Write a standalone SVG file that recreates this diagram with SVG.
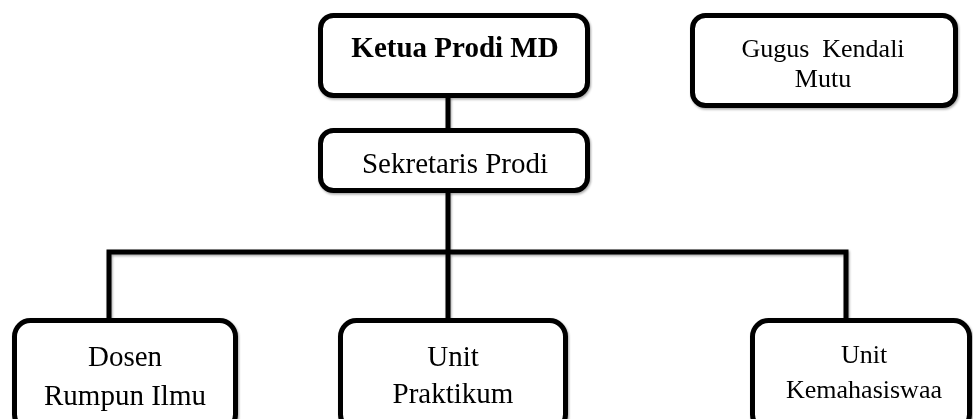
<svg xmlns="http://www.w3.org/2000/svg" width="973" height="419" viewBox="0 0 973 419">
  <style>
    .box { fill: #ffffff; stroke: #000000; stroke-width: 5; }
    .conn { fill: none; stroke: #000000; stroke-width: 5; stroke-linejoin: miter; }
    text { font-family: "Liberation Serif", "Times New Roman", serif; fill: #000000; text-anchor: middle; white-space: pre; }
    .t29 { font-size: 29px; }
    .t26 { font-size: 26px; }
    .bold { font-weight: bold; }
  </style>
  <defs>
    <filter id="sh" x="-10%" y="-10%" width="120%" height="130%">
      <feDropShadow dx="1" dy="1.5" stdDeviation="1" flood-color="#000" flood-opacity="0.35"/>
    </filter>
  </defs>
  <rect width="973" height="419" fill="#ffffff"/>
  <g id="connectors" filter="url(#sh)">
    <path class="conn" d="M448,97 V131"/>
    <path class="conn" d="M448,192 V319"/>
    <path class="conn" d="M109,319 V252 H846 V319"/>
  </g>
  <g id="ketua" filter="url(#sh)">
    <rect class="box" x="320.5" y="15.5" width="267" height="80" rx="13"/>
    <text class="t29 bold" x="455" y="57">Ketua Prodi MD</text>
  </g>
  <g id="sekretaris" filter="url(#sh)">
    <rect class="box" x="320.5" y="130.5" width="267" height="60" rx="13"/>
    <text class="t29" x="455" y="173">Sekretaris Prodi</text>
  </g>
  <g id="gugus" filter="url(#sh)">
    <rect class="box" x="692.5" y="15.5" width="263" height="90" rx="13"/>
    <text class="t26" x="823" y="57" xml:space="preserve">Gugus  Kendali</text>
    <text class="t26" x="823" y="87">Mutu</text>
  </g>
  <g id="dosen" filter="url(#sh)">
    <rect class="box" x="14.5" y="320.5" width="221" height="110" rx="16"/>
    <text class="t29" x="125" y="366">Dosen</text>
    <text class="t29" x="125" y="405">Rumpun Ilmu</text>
  </g>
  <g id="praktikum" filter="url(#sh)">
    <rect class="box" x="340.5" y="320.5" width="225" height="110" rx="16"/>
    <text class="t29" x="453" y="366">Unit</text>
    <text class="t29" x="453" y="403">Praktikum</text>
  </g>
  <g id="kemahasiswaan" filter="url(#sh)">
    <rect class="box" x="752.5" y="320.5" width="217" height="110" rx="16"/>
    <text class="t26" x="864" y="363">Unit</text>
    <text class="t26" x="864" y="398">Kemahasiswaa</text>
  </g>
</svg>
